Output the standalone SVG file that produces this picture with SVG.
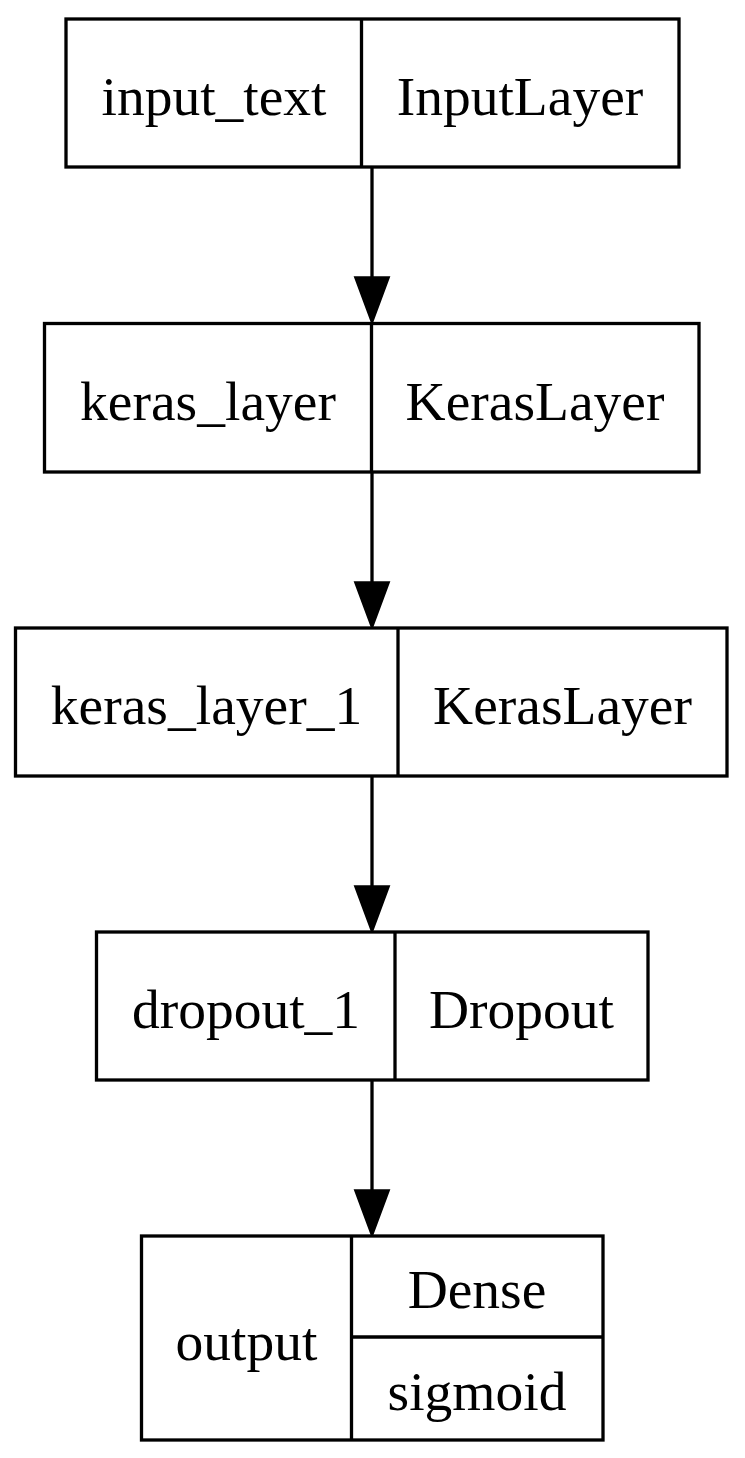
<svg xmlns="http://www.w3.org/2000/svg" width="745" height="1458" viewBox="0 0 745 1458">
<style>
.box{fill:#fff;stroke:#000;stroke-width:3.3}
.div{stroke:#000;stroke-width:3.3;fill:none}
.t{font-family:"Liberation Serif","Times New Roman",serif;font-size:55.5px;text-anchor:middle;fill:#000}
.edge{stroke:#000;stroke-width:3.3;fill:none}
.head{fill:#000;stroke:#000;stroke-width:3.3}
</style>
<rect width="745" height="1458" fill="#fff"/>
<g id="connectors">
<line class="edge" x1="372" y1="167" x2="372" y2="278"/>
<polygon class="head" points="356,278 388,278 372,321"/>
<line class="edge" x1="372" y1="472" x2="372" y2="583"/>
<polygon class="head" points="356,583 388,583 372,626"/>
<line class="edge" x1="372" y1="776" x2="372" y2="887"/>
<polygon class="head" points="356,887 388,887 372,930"/>
<line class="edge" x1="372" y1="1080" x2="372" y2="1191"/>
<polygon class="head" points="356,1191 388,1191 372,1234"/>
</g>
<g id="input_text">
<rect class="box" x="66" y="19" width="613" height="148"/>
<line class="div" x1="361.5" y1="19" x2="361.5" y2="167"/>
<text class="t" x="214" y="115">input_text</text>
<text class="t" x="520" y="115">InputLayer</text>
</g>
<g id="keras_layer">
<rect class="box" x="44.5" y="323.5" width="654.5" height="148.5"/>
<line class="div" x1="371.5" y1="323.5" x2="371.5" y2="472"/>
<text class="t" x="208" y="419.5">keras_layer</text>
<text class="t" x="535" y="419.5">KerasLayer</text>
</g>
<g id="keras_layer_1">
<rect class="box" x="15.5" y="628" width="711.5" height="148"/>
<line class="div" x1="398" y1="628" x2="398" y2="776"/>
<text class="t" x="206.5" y="724">keras_layer_1</text>
<text class="t" x="562.5" y="724">KerasLayer</text>
</g>
<g id="dropout_1">
<rect class="box" x="96.5" y="932" width="551.5" height="148"/>
<line class="div" x1="395" y1="932" x2="395" y2="1080"/>
<text class="t" x="246" y="1028">dropout_1</text>
<text class="t" x="521.5" y="1028">Dropout</text>
</g>
<g id="output">
<rect class="box" x="141.5" y="1236" width="461.5" height="204"/>
<line class="div" x1="351.5" y1="1236" x2="351.5" y2="1440"/>
<line class="div" x1="351.5" y1="1337" x2="603" y2="1337"/>
<text class="t" x="246.5" y="1360">output</text>
<text class="t" x="477" y="1308">Dense</text>
<text class="t" x="477" y="1410">sigmoid</text>
</g>
</svg>
